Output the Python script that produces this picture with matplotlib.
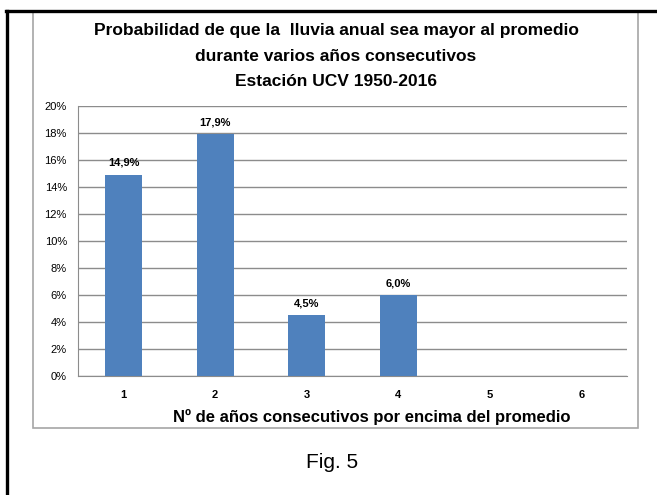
import matplotlib
matplotlib.use("Agg")
import matplotlib.pyplot as plt
from matplotlib.patches import Rectangle
from matplotlib.lines import Line2D
from matplotlib.ticker import MultipleLocator, FuncFormatter

categories = ["1", "2", "3", "4", "5", "6"]
values = [14.9, 17.9, 4.5, 6.0, 0.0, 0.0]
labels = ["14,9%", "17,9%", "4,5%", "6,0%", "", ""]
title_lines = ["Probabilidad de que la  lluvia anual sea mayor al promedio",
               "durante varios años consecutivos",
               "Estación UCV 1950-2016"]
xlabel = "Nº de años consecutivos por encima del promedio"
caption = "Fig. 5"

FONT = ["Liberation Sans Narrow", "Liberation Sans", "DejaVu Sans"]
plt.rcParams["font.family"] = FONT

W, H = 657, 495
fig = plt.figure(figsize=(W / 100, H / 100), dpi=100)
fig.patch.set_facecolor("white")

def fx(px):
    return px / W

def fy(py):
    return 1 - py / H

# chart frame (gray)
fig.patches.append(Rectangle((fx(33), fy(428)), fx(638) - fx(33), fy(12) - fy(428),
                             transform=fig.transFigure, fill=False,
                             edgecolor="#a6a6a6", linewidth=1.2))
# outer black border (top and left)
fig.lines.append(Line2D([fx(6.5), fx(6.5)], [fy(11), 0], transform=fig.transFigure,
                        color="black", linewidth=2.4))
fig.lines.append(Line2D([fx(5.5), 1], [fy(11), fy(11)], transform=fig.transFigure,
                        color="black", linewidth=2.4))

ax = fig.add_axes([fx(78), fy(376), fx(627) - fx(78), fy(106) - fy(376)])
x = list(range(len(categories)))
bars = ax.bar(x, values, width=0.4, color="#4f81bd", zorder=3)
ax.set_xlim(-0.5, len(categories) - 0.5)
ax.set_ylim(0, 20)
ax.yaxis.set_major_locator(MultipleLocator(2))
ax.yaxis.set_major_formatter(FuncFormatter(lambda v, p: f"{int(round(v))}%"))
ax.set_xticks(x)
ax.set_xticklabels(categories, fontsize=8, fontweight="bold")
ax.tick_params(axis="both", length=0, labelsize=8)
ax.tick_params(axis="x", pad=10)
ax.tick_params(axis="y", pad=8)
ax.grid(axis="y", color="#8c8c8c", linewidth=1.0, zorder=0)
for s in ["top", "right"]:
    ax.spines[s].set_visible(False)
ax.spines["left"].set_color("#8c8c8c")
ax.spines["bottom"].set_color("#8c8c8c")

for b, lab in zip(bars, labels):
    if lab:
        ax.annotate(lab, (b.get_x() + b.get_width() / 2, b.get_height()),
                    xytext=(0, 5), textcoords="offset points", ha="center",
                    va="bottom", fontsize=8, fontweight="bold")

for i, line in enumerate(title_lines):
    fig.text(fx(336), fy(31 + 25 * i), line, ha="center", va="center",
             fontsize=12.5, fontweight="bold")

fig.text(fx(372), fy(417), xlabel, ha="center", va="center",
         fontsize=12, fontweight="bold")
fig.text(fx(332), fy(462), caption, ha="center", va="center", fontsize=15)

fig.savefig("out.png", dpi=100, facecolor="white")
